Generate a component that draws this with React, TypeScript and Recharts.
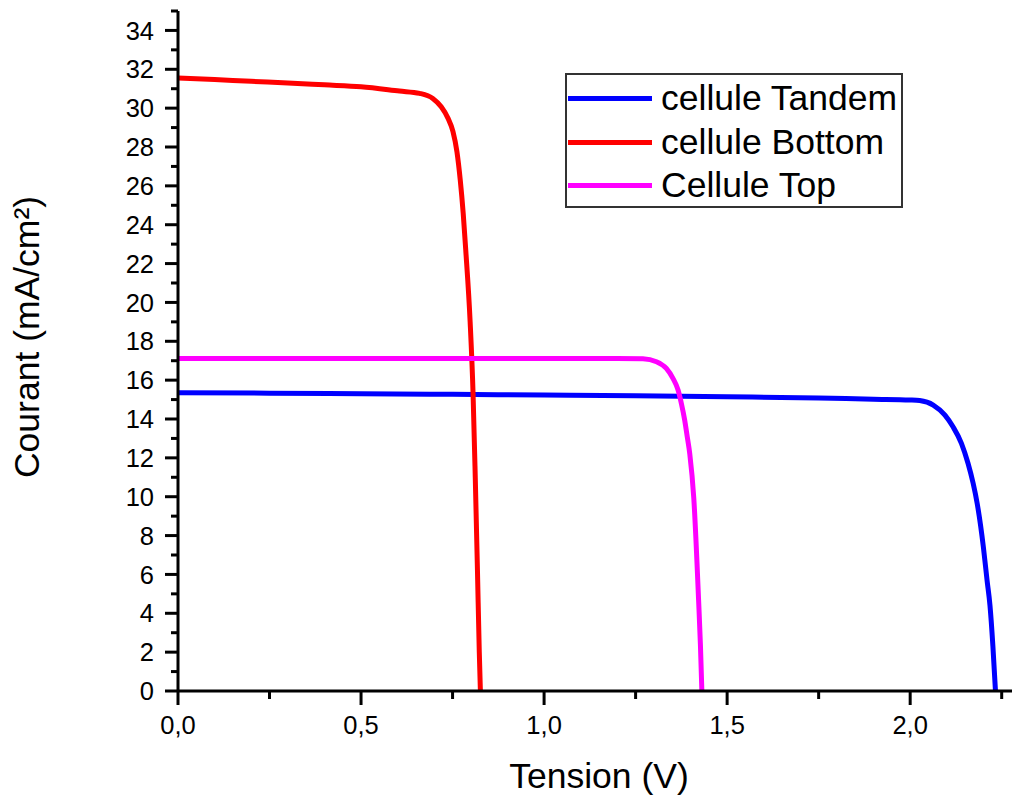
import { LineChart, Line, XAxis, YAxis, Legend, Label } from "recharts";

// J-V curves (V in volts, I in mA/cm²)
const tandemV = [0, 0.25, 0.5, 0.75, 1.0, 1.25, 1.5, 1.75, 1.9, 2.0, 2.026, 2.063, 2.095, 2.117, 2.14, 2.158, 2.172, 2.183, 2.2, 2.21, 2.218, 2.226, 2.233];
const tandemI = [15.35, 15.33, 15.3, 15.27, 15.23, 15.2, 15.15, 15.08, 15.02, 14.98, 14.95, 14.72, 14.2, 13.6, 12.75, 11.72, 10.69, 9.66, 7.4, 5.7, 4.4, 2.3, 0];

const bottomV = [0, 0.1, 0.2, 0.3, 0.4, 0.5, 0.605, 0.66, 0.696, 0.719, 0.737, 0.751, 0.762, 0.771, 0.779, 0.786, 0.798, 0.806, 0.812, 0.818, 0.823, 0.826];
const bottomI = [31.55, 31.47, 31.38, 31.3, 31.2, 31.1, 30.88, 30.76, 30.5, 30.07, 29.5, 28.8, 27.75, 26.3, 24.6, 22.7, 19.0, 15.3, 11.0, 6.2, 2.0, 0];

const topV = [0, 0.25, 0.5, 0.75, 1.0, 1.2, 1.27, 1.307, 1.334, 1.352, 1.366, 1.375, 1.384, 1.391, 1.398, 1.409, 1.422, 1.427, 1.431];
const topI = [17.12, 17.12, 17.12, 17.12, 17.12, 17.12, 17.1, 16.95, 16.6, 16.09, 15.49, 14.8, 13.95, 13.09, 12.2, 9.9, 4.7, 2.4, 0];

const seriesNames = ["cellule Tandem", "cellule Bottom", "Cellule Top"];
const seriesColors = ["#0000ff", "#ff0000", "#ff00ff"];

const xTicks = [0, 0.25, 0.5, 0.75, 1.0, 1.25, 1.5, 1.75, 2.0, 2.25];
const yTicks = Array.from({ length: 36 }, (_, k) => k);

const FONT = '"Liberation Sans", Arial, sans-serif';

const toRows = (vs: number[], is: number[]) => vs.map((v, k) => ({ v, i: is[k] }));
const seriesData = [toRows(tandemV, tandemI), toRows(bottomV, bottomI), toRows(topV, topI)];

function YTick(props: any) {
  const { x, y, payload } = props;
  const major = payload.value % 2 === 0;
  return (
    <g>
      <line x1={x - (major ? 13 : 7)} x2={x} y1={y} y2={y} stroke="#000" strokeWidth={3} />
      {major && (
        <text x={x - 24} y={y} dy="0.36em" textAnchor="end" fontSize={25.5} fontFamily={FONT} fill="#000">
          {payload.value}
        </text>
      )}
    </g>
  );
}

function XTick(props: any) {
  const { x, y, payload } = props;
  const major = Math.abs((payload.value * 2) % 1) < 1e-6;
  return (
    <g>
      <line x1={x} x2={x} y1={y} y2={y + (major ? 14 : 8)} stroke="#000" strokeWidth={3} />
      {major && (
        <text x={x} y={y + 25} dy="0.71em" textAnchor="middle" fontSize={25.5} fontFamily={FONT} fill="#000">
          {payload.value.toFixed(1).replace(".", ",")}
        </text>
      )}
    </g>
  );
}

function LegendBox(props: any) {
  const items = [...(props.payload || [])].sort(
    (a: any, b: any) => seriesNames.indexOf(a.value) - seriesNames.indexOf(b.value)
  );
  return (
    <div
      style={{
        boxSizing: "border-box",
        width: 338,
        height: 135,
        border: "2px solid #333",
        background: "#fff",
        paddingTop: 2,
        fontFamily: FONT,
        fontSize: 35.5,
        color: "#000",
      }}
    >
      {items.map((it: any) => (
        <div key={it.value} style={{ display: "flex", alignItems: "center", height: 43.5 }}>
          <div style={{ width: 84, height: 5, background: it.color, marginLeft: 1 }} />
          <span style={{ marginLeft: 9, lineHeight: "43.5px" }}>{it.value}</span>
        </div>
      ))}
    </div>
  );
}

export default function App() {
  return (
    <div style={{ position: "absolute", left: 0, top: 0, width: 1012, height: 796, overflow: "hidden", background: "#fff" }}>
      <LineChart width={1040} height={796} margin={{ top: 11, right: 20, left: 0, bottom: 0 }}>
        <XAxis
          dataKey="v"
          type="number"
          domain={[0, 2.3]}
          ticks={xTicks}
          interval={0}
          height={105}
          tickSize={0}
          tickMargin={0}
          tickLine={false}
          tick={<XTick />}
          axisLine={{ stroke: "#000", strokeWidth: 3 }}
        >
          <Label
            content={(p: any) => {
              const vb = p.viewBox;
              return (
                <text x={vb.x + vb.width / 2} y={vb.y + vb.height - 8} textAnchor="middle" fontSize={35.5} fontFamily={FONT} fill="#000">
                  Tension (V)
                </text>
              );
            }}
          />
        </XAxis>
        <XAxis xAxisId="top" orientation="top" type="number" domain={[0, 2.3]} height={0} tick={false} tickLine={false} axisLine={{ stroke: "#000", strokeWidth: 3 }} />
        <YAxis
          type="number"
          domain={[0, 35]}
          ticks={yTicks}
          interval={0}
          width={178}
          tickSize={0}
          tickMargin={0}
          tickLine={false}
          tick={<YTick />}
          axisLine={{ stroke: "#000", strokeWidth: 3 }}
        >
          <Label
            content={(p: any) => {
              const vb = p.viewBox;
              const cx = vb.x + 39;
              const cy = vb.y + vb.height / 2 - 14;
              return (
                <text x={cx} y={cy} transform={`rotate(-90, ${cx}, ${cy})`} textAnchor="middle" fontSize={35.5} fontFamily={FONT} fill="#000">
                  Courant (mA/cm²)
                </text>
              );
            }}
          />
        </YAxis>
        <YAxis yAxisId="right" orientation="right" domain={[0, 35]} width={0} tick={false} tickLine={false} axisLine={{ stroke: "#000", strokeWidth: 3 }} />
        <Legend
          layout="vertical"
          align="center"
          verticalAlign="middle"
          content={<LegendBox />}
          wrapperStyle={{ left: 565, top: 73, width: 338, height: 135 }}
        />
        {seriesNames.map((name, k) => (
          <Line
            key={name}
            data={seriesData[k]}
            dataKey="i"
            name={name}
            type="monotone"
            stroke={seriesColors[k]}
            strokeWidth={5}
            dot={false}
            isAnimationActive={false}
          />
        ))}
      </LineChart>
    </div>
  );
}
